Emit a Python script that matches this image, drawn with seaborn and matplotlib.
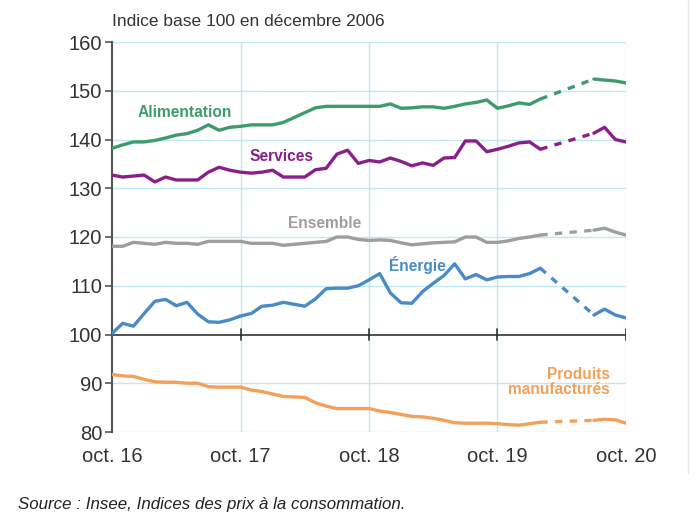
import numpy as np
import pandas as pd
import seaborn as sns
import matplotlib.pyplot as plt
from matplotlib.lines import Line2D

# monthly index values, oct. 2016 (m0) to feb. 2020 (m40), then jul.-oct. 2020 (m45-m48)
alimentation = [138.2, 138.9, 139.5, 139.5, 139.8, 140.3, 140.9, 141.2, 141.9, 143.0,
                141.9, 142.5, 142.7, 143.0, 143.0, 143.0, 143.5, 144.5, 145.5, 146.5,
                146.8, 146.8, 146.8, 146.8, 146.8, 146.8, 147.3, 146.4, 146.5, 146.7,
                146.7, 146.4, 146.8, 147.3, 147.6, 148.1, 146.4, 146.9, 147.5, 147.2,
                148.3]
alimentation_end = [152.4, 152.2, 152.0, 151.6]

services = [132.7, 132.3, 132.5, 132.7, 131.3, 132.3, 131.7, 131.7, 131.7, 133.3,
            134.3, 133.7, 133.3, 133.1, 133.3, 133.7, 132.3, 132.3, 132.3, 133.8,
            134.1, 137.0, 137.8, 135.1, 135.7, 135.4, 136.2, 135.5, 134.6, 135.2,
            134.7, 136.2, 136.3, 139.7, 139.7, 137.5, 138.0, 138.6, 139.3, 139.5,
            138.0]
services_end = [141.3, 142.5, 140.0, 139.5]

ensemble = [118.1, 118.1, 118.9, 118.7, 118.5, 118.9, 118.7, 118.7, 118.5, 119.1,
            119.1, 119.1, 119.1, 118.7, 118.7, 118.7, 118.3, 118.5, 118.7, 118.9,
            119.1, 120.0, 120.0, 119.5, 119.3, 119.4, 119.3, 118.8, 118.4, 118.6,
            118.8, 118.9, 119.0, 120.0, 120.0, 118.9, 118.9, 119.2, 119.7, 120.0,
            120.4]
ensemble_end = [121.4, 121.8, 121.0, 120.4]

energie = [100.2, 102.3, 101.7, 104.3, 106.8, 107.2, 105.9, 106.6, 104.2, 102.6,
           102.5, 103.0, 103.8, 104.3, 105.8, 106.0, 106.6, 106.2, 105.8, 107.3,
           109.4, 109.5, 109.5, 110.0, 111.2, 112.5, 108.5, 106.5, 106.4, 108.8,
           110.5, 112.1, 114.5, 111.4, 112.3, 111.2, 111.8, 111.9, 111.9, 112.5,
           113.6]
energie_end = [104.0, 105.2, 104.0, 103.4]

manufactures = [91.8, 91.5, 91.4, 90.8, 90.3, 90.2, 90.2, 90.0, 90.0, 89.3,
                89.2, 89.2, 89.2, 88.6, 88.3, 87.8, 87.3, 87.2, 87.1, 86.0,
                85.3, 84.8, 84.8, 84.8, 84.8, 84.3, 84.0, 83.6, 83.2, 83.1,
                82.8, 82.4, 81.9, 81.8, 81.8, 81.8, 81.7, 81.5, 81.4, 81.7,
                82.0]
manufactures_end = [82.4, 82.6, 82.5, 81.8]

tick_labels = ["oct. 16", "oct. 17", "oct. 18", "oct. 19", "oct. 20"]

series = {
    "Alimentation": (alimentation, alimentation_end, "#3d9b6e"),
    "Services": (services, services_end, "#8a1f8a"),
    "Ensemble": (ensemble, ensemble_end, "#9e9e9e"),
    "Énergie": (energie, energie_end, "#4a8bc6"),
    "Produits\nmanufacturés": (manufactures, manufactures_end, "#f2a05a"),
}

sns.set_style("white")
plt.rcParams["font.family"] = ["Liberation Sans", "DejaVu Sans"]

fig = plt.figure(figsize=(6.96, 5.26), dpi=100)
ax = fig.add_axes([112 / 696, 1 - 432 / 526, 514 / 696, 390 / 526])

grid_c = "#bfe8f2"
for y in range(80, 161, 10):
    if y != 100:
        ax.axhline(y, color=grid_c, lw=1, zorder=0)
for x in range(12, 49, 12):
    ax.axvline(x, color=grid_c, lw=1, zorder=0)

for name, (first, last, color) in series.items():
    m1 = np.arange(len(first))
    m2 = np.arange(45, 45 + len(last))
    sns.lineplot(x=m1, y=first, color=color, lw=2.4, ax=ax, zorder=3)
    sns.lineplot(x=m2, y=last, color=color, lw=2.4, ax=ax, zorder=3)
    sns.lineplot(x=[m1[-1], m2[0]], y=[first[-1], last[0]], color=color,
                 lw=2.4, ax=ax, zorder=3, linestyle=(0, (2.2, 2.2)))

# base line at 100 with year ticks
ax.axhline(100, color="#333333", lw=1.2, zorder=2)
for x in range(12, 49, 12):
    ax.plot([x, x], [98.8, 101.2], color="#333333", lw=1.2, zorder=2)

labels = {
    "Alimentation": (6.8, 145.6, "center"),
    "Services": (15.8, 136.6, "center"),
    "Ensemble": (19.9, 122.8, "center"),
    "Énergie": (28.5, 114.2, "center"),
    "Produits\nmanufacturés": (46.5, 90.3, "right"),
}
for name, (x, y, ha) in labels.items():
    ax.text(x, y, name, color=series[name][2], fontsize=11.2, fontweight="bold",
            ha=ha, va="center", multialignment="right", linespacing=1.0)

ax.set_xlim(0, 48)
ax.set_ylim(80, 160)
ax.set_xticks(range(0, 49, 12))
ax.set_xticklabels(tick_labels)
ax.set_yticks(range(80, 161, 10))
for s in ["top", "right", "bottom"]:
    ax.spines[s].set_visible(False)
ax.spines["left"].set_color("#555555")
ax.spines["left"].set_linewidth(1.5)
ax.tick_params(axis="y", which="both", left=True, length=5, width=1.2,
               color="#555555", labelsize=14.5, labelcolor="#333333", pad=2)
ax.tick_params(axis="x", bottom=False, labelsize=14.5, labelcolor="#333333", pad=7)

fig.text(112 / 696, 1 - 22 / 526, "Indice base 100 en décembre 2006",
         fontsize=12.5, color="#333333", va="center", ha="left")
fig.text(18 / 696, 1 - 505 / 526, "Source : Insee, Indices des prix à la consommation.",
         fontsize=12.2, style="italic", color="#222222", va="center", ha="left")
fig.add_artist(Line2D([688 / 696, 688 / 696], [0.1, 1], color="#e6e6e6", lw=1))

fig.savefig("out.png", dpi=100)
